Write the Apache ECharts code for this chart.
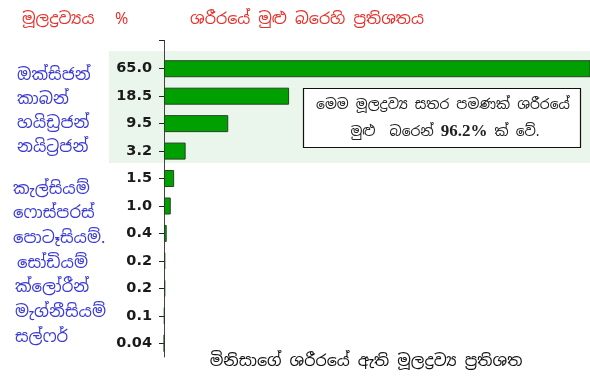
<!DOCTYPE html>
<html>
<head>
<meta charset="utf-8">
<script src="https://cdn.jsdelivr.net/npm/echarts@6/dist/echarts.min.js"></script>
<style>
html,body{margin:0;padding:0;background:#fff;}
#c{width:590px;height:386px;}
</style>
</head>
<body>
<div id="c"></div>
<script>
const elements = ['ඔක්සිජන්','කාබන්','හයිඩ්‍රජන්','නයිට්‍රජන්','කැල්සියම්','ෆොස්පරස්','පොටෑසියම්.','සෝඩියම්','ක්ලෝරීන්','මැග්නීසියම්','සල්ෆර්'];
const percents = [65.0, 18.5, 9.5, 3.2, 1.5, 1.0, 0.4, 0.2, 0.2, 0.1, 0.04];
const tickLabels = ['65.0','18.5','9.5','3.2','1.5','1.0','0.4','0.2','0.2','0.1','0.04'];
const headerTexts = ['මූලද්‍රව්‍යය', '%', 'ශරීරයේ මුළු බරෙහි ප්‍රතිශතය'];
const noteLine1 = 'මෙම මූලද්‍රව්‍ය සතර පමණක් ශරීරයේ';
const noteLine2 = ['මුළු  බරෙන් ', '96.2%', ' ක් වේ.'];
const bottomTitle = 'මිනිසාගේ ශරීරයේ ඇති මූලද්‍රව්‍ය ප්‍රතිශත';
const majorCount = 4; // the first four elements form the highlighted group

// horizontal nudges (px) for the name labels
const nameIndent = [4,4,4,4,0,0,0,4,2,2,2];

const FONT = '"Noto Sans Sinhala","Iskoola Pota","Noto Sans","DejaVu Sans",sans-serif';
const nameItem = (n, i) => ({value: n, textStyle: {
  align: 'left', color: '#3a3ad8', fontSize: 16.5, fontFamily: FONT,
  padding: [0, 0, 0, nameIndent[i]]
}});
const groupA = elements.slice(0, majorCount).map((n, i) => nameItem(n, i));
const groupB = elements.slice(majorCount).map((n, i) => nameItem(n, i + majorCount));

const nameAxis = (gridIndex, data) => ({
  type: 'category', inverse: true, gridIndex: gridIndex, data: data, position: 'left',
  axisLine: {show: false}, axisTick: {show: false}, splitLine: {show: false},
  axisLabel: {color: '#3a3ad8', fontSize: 16.5, align: 'left', margin: 151, fontFamily: FONT}
});

const chart = echarts.init(document.getElementById('c'), null, {renderer:'canvas'});
chart.setOption({
  animation: false,
  backgroundColor: '#ffffff',
  grid: [
    {left: 164, right: 0, top: 55, bottom: 29, containLabel: false, outerBoundsMode: 'none'},
    {left: 164, width: 10, top: 63, height: 96, containLabel: false, outerBoundsMode: 'none'},
    {left: 164, width: 10, top: 176.7, height: 172.7, containLabel: false, outerBoundsMode: 'none'}
  ],
  xAxis: [
    {type: 'value', min: 0, max: 63, show: false, gridIndex: 0},
    {type: 'value', show: false, gridIndex: 1},
    {type: 'value', show: false, gridIndex: 2}
  ],
  yAxis: [
    {
      type: 'category', inverse: true, data: tickLabels, position: 'left', gridIndex: 0,
      axisLine: {show: true, lineStyle: {color: '#444', width: 1}},
      axisTick: {show: true, length: 5, alignWithLabel: true, lineStyle: {color: '#222'}},
      axisLabel: {color: '#1a1a1a', fontWeight: 'bold', fontSize: 14.5, margin: 12, fontFamily: '"DejaVu Sans",sans-serif'},
      splitLine: {show: false}
    },
    nameAxis(1, groupA),
    nameAxis(2, groupB)
  ],
  series: [{
    type: 'bar', xAxisIndex: 0, yAxisIndex: 0, data: percents, barWidth: 17,
    itemStyle: {color: '#00a000', borderColor: '#224422', borderWidth: 1}
  }],
  graphic: [
    {type: 'rect', z: -10, silent: true, shape: {x: 109, y: 51, width: 481, height: 112}, style: {fill: '#eaf6ec'}},
    {type: 'line', shape: {x1: 164.5, y1: 40, x2: 164.5, y2: 55}, style: {stroke: '#444', lineWidth: 1}},
    {type: 'line', shape: {x1: 159, y1: 40.5, x2: 164.5, y2: 40.5}, style: {stroke: '#222', lineWidth: 1}},
    {type: 'text', left: 22, top: 12, style: {text: headerTexts[0], fill: '#e8302a', font: '16px ' + FONT}},
    {type: 'text', left: 115, top: 12, style: {text: headerTexts[1], fill: '#e8302a', font: '16px ' + FONT}},
    {type: 'text', left: 190, top: 12, style: {text: headerTexts[2], fill: '#e8302a', font: '16px ' + FONT}},
    {type: 'rect', z: 50, shape: {x: 303.5, y: 88.5, width: 277, height: 59}, style: {fill: '#ffffff', stroke: '#111', lineWidth: 1.2}},
    {type: 'text', z: 51, x: 443, y: 105, style: {text: noteLine1, fill: '#222', font: '14px ' + FONT, align: 'center', verticalAlign: 'middle'}},
    {type: 'text', z: 51, x: 445, y: 132, style: {
      text: '{s|' + noteLine2[0] + '}{n|' + noteLine2[1] + '}{s|' + noteLine2[2] + '}',
      align: 'center', verticalAlign: 'middle',
      rich: {
        s: {fill: '#222', font: '14px ' + FONT},
        n: {fill: '#222', font: 'bold 17px "Liberation Serif","DejaVu Serif",serif'}
      }
    }},
    {type: 'text', x: 366, y: 362, style: {text: bottomTitle, fill: '#111', font: '16px ' + FONT, align: 'center', verticalAlign: 'middle'}}
  ]
});
</script>
</body>
</html>
